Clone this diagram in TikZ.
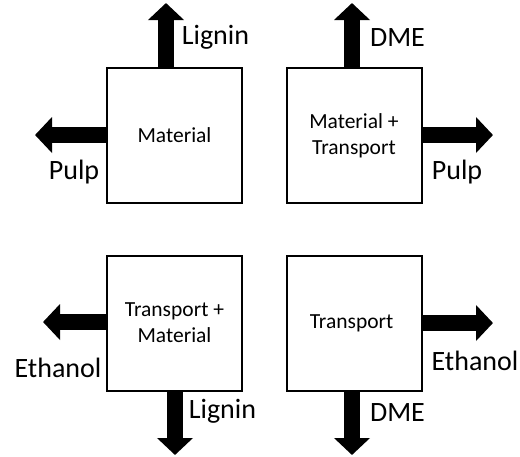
\documentclass[tikz,border=0pt]{standalone}
\usepackage{fontspec}
\setmainfont{Carlito}
\usetikzlibrary{arrows.meta}

\begin{document}
\begin{tikzpicture}
[x=1pt, y=-1pt,
 boxDecorate/.style={shape=rectangle, draw, line width=2pt, minimum width=135pt, minimum height=135pt, align=center, font=\fontsize{21.5}{26}\selectfont, inner sep=0pt},
 arrowDecorate/.style={-{Triangle[width=35pt,length=17pt]}, line width=16pt},
 labelDecorate/.style={font=\fontsize{28}{32}\selectfont, inner sep=0pt}]

\useasboundingbox (0,0) rectangle (520,456);

% boxes
\foreach \boxname/\x/\y/\txt in {
mat/174.5/135/{Material},
matTr/354/135.5/{Material +\\Transport},
trMat/174.5/323/{Transport +\\Material},
tr/354/323/{Transport}
 }
 {
          \node (B\boxname) at (\x,\y) [boxDecorate] {\txt};
 }

% free ends of the arrows
\coordinate (Tmat1) at (166,3);
\coordinate (Tmat2) at (35,135);
\coordinate (TmatTr1) at (352,3);
\coordinate (TmatTr2) at (493,135);
\coordinate (TtrMat1) at (43,322);
\coordinate (TtrMat2) at (175,455);
\coordinate (Ttr1) at (493,323);
\coordinate (Ttr2) at (352,455);

\draw[arrowDecorate] (Bmat.north -| Tmat1) -- (Tmat1);
\draw[arrowDecorate] (Bmat.west |- Tmat2) -- (Tmat2);
\draw[arrowDecorate] (BmatTr.north -| TmatTr1) -- (TmatTr1);
\draw[arrowDecorate] (BmatTr.east |- TmatTr2) -- (TmatTr2);
\draw[arrowDecorate] (BtrMat.west |- TtrMat1) -- (TtrMat1);
\draw[arrowDecorate] (BtrMat.south -| TtrMat2) -- (TtrMat2);
\draw[arrowDecorate] (Btr.east |- Ttr1) -- (Ttr1);
\draw[arrowDecorate] (Btr.south -| Ttr2) -- (Ttr2);

% labels
\foreach \labelname/\x/\y/\txt in {
mat1/215.5/37/Lignin,
mat2/74/172/Pulp,
matTr1/397.5/38/DME,
matTr2/457/172/Pulp,
trMat1/58/368/Ethanol,
trMat2/222.5/411/Lignin,
tr1/475/361/Ethanol,
tr2/397.5/413/DME
 }
 {
          \node (L\labelname) at (\x,\y) [labelDecorate] {\txt};
 }
\end{tikzpicture}
\end{document}
